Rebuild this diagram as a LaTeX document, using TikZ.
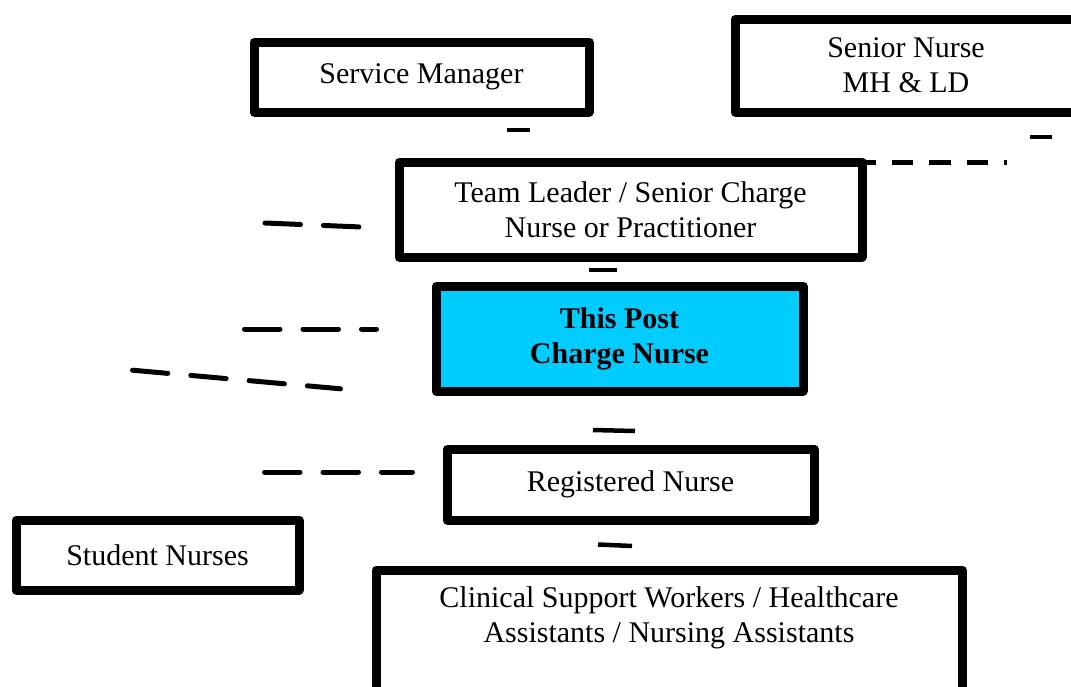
\documentclass[tikz,border=0pt]{standalone}
\usepackage{fontspec}
\setmainfont{Liberation Serif}
\definecolor{postblue}{HTML}{00CCFF}
\begin{document}
\begin{tikzpicture}[x=1pt,y=-1pt,
  box/.style={draw, line width=9pt, line join=round, inner sep=0pt, align=center,
    font=\fontsize{30}{35}\selectfont},
  lbl/.style={inner sep=0pt, align=center, font=\fontsize{30}{35}\selectfont},
  tick/.style={line width=4.5pt},
  dashline/.style={line width=5pt, line cap=round, dash pattern=on 35.5pt off 23pt},
  sqdash/.style={line width=5pt, dash pattern=on 21.5pt off 16pt}]
\useasboundingbox (0,0) rectangle (1071,686);

% boxes
\node[box, minimum width=335pt, minimum height=70pt] (sm) at (421.5,77) {Service Manager};
\node[box, minimum width=342pt, minimum height=93pt] (sn) at (906,65.5) {Senior Nurse\\MH \& LD};
\node[box, minimum width=463pt, minimum height=95pt] (tl) at (630.5,209.5) {Team Leader / Senior Charge\\Nurse or Practitioner};
\node[box, fill=postblue, minimum width=367pt, minimum height=105pt, font=\fontsize{30}{35}\selectfont\bfseries] (tp) at (619.5,338.5) {This Post\\Charge Nurse};
\node[box, minimum width=367pt, minimum height=71pt] (rn) at (630.5,484.5) {Registered Nurse};
\node[box, minimum width=283pt, minimum height=70pt] (st) at (157.5,555) {Student Nurses};
\node[box, minimum width=586pt, minimum height=150pt] (csw) at (669,645) {};
\node[lbl] (cswtext) at (669,618) {Clinical Support Workers / Healthcare\\Assistants / Nursing Assistants};

% short ticks
\draw[tick] (507,130) -- (530,130);
\draw[tick] (1030,137) -- (1052,137);
\draw[tick] (589,270) -- (617,270);
\draw[tick] (593,430) -- (635,431);
\draw[tick] (598,544.5) -- (632,546);

% dashed lines
\coordinate (tlstart) at (854,162);
\coordinate (tlend) at (1007,162);
\draw[sqdash] (tlstart) -- (tlend);
\draw[dashline] (265,223) -- (361,227);
\draw[dashline] (244.5,329) -- (376.5,329);
\draw[dashline] (132.5,370.2) -- (340.5,388.8);
\draw[dashline] (264.5,472) -- (412.5,472);
\end{tikzpicture}
\end{document}
